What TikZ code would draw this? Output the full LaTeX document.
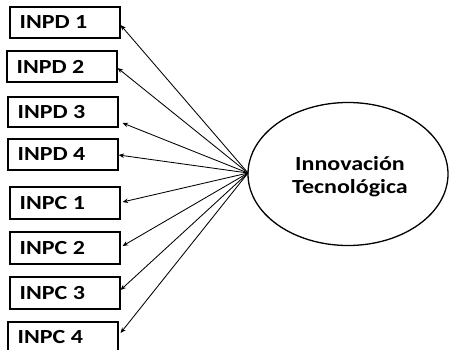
\documentclass[tikz,border=0pt]{standalone}
\usepackage{fontspec}
\setmainfont{Carlito}
\usetikzlibrary{arrows.meta,shapes.geometric,calc}
\begin{document}
\begin{tikzpicture}[x=1pt,y=-1pt,
  box/.style={draw,line width=1.1pt,minimum width=110pt,minimum height=31pt,inner sep=0pt},
  lbl/.style={anchor=west,inner sep=0pt,font=\fontsize{20}{24}\selectfont\bfseries},
  link/.style={line width=0.85pt,-{Stealth[length=5.5pt,width=4.5pt]}}]
\useasboundingbox (0,0) rectangle (449,350);
\node[box] (d1) at (65,22.5) {};
\node[box] (d2) at (62,66.5) {};
\node[box,minimum height=30pt] (d3) at (63,112) {};
\node[box] (d4) at (63,154.5) {};
\node[box,minimum height=32pt] (c1) at (65,203) {};
\node[box,minimum height=32pt] (c2) at (65,248) {};
\node[box,minimum height=32pt] (c3) at (65,293) {};
\node[box] (c4) at (63,337.5) {};
\foreach \n/\t in {d1/INPD 1,d2/INPD 2,d3/INPD 3,d4/INPD 4,c1/INPC 1,c2/INPC 2,c3/INPC 3,c4/INPC 4}
  \node[lbl] (\n t) at ([xshift=10pt]\n.west) {\scalebox{1.2}[1]{\t}};
\node[ellipse,draw,line width=1.3pt,minimum width=200pt,minimum height=143pt,inner sep=0pt] (it) at (348,174) {};
\node[align=center,inner sep=0pt,font=\fontsize{20}{23}\selectfont\bfseries] (itt) at ([xshift=2pt,yshift=-3pt]it.center)
  {\scalebox{1.2}[1]{Innovación}\\\scalebox{1.2}[1]{Tecnológica}};
\coordinate (src) at (248,173);
\draw[link] (src) -- ([yshift=-2.5pt]d1.east);
\draw[link] (src) -- ([yshift=-1.5pt]d2.east);
\draw[link] (src) -- ([xshift=4pt,yshift=-11pt]d3.east);
\draw[link] (src) -- ([yshift=-0.5pt]d4.east);
\draw[link] (src) -- ([xshift=2pt,yshift=1pt]c1.east);
\draw[link] (src) -- ([xshift=2pt,yshift=2pt]c2.east);
\draw[link] (src) -- ([yshift=3pt]c3.east);
\draw[link] (src) -- ([xshift=2pt,yshift=4.5pt]c4.east);
\end{tikzpicture}
\end{document}
